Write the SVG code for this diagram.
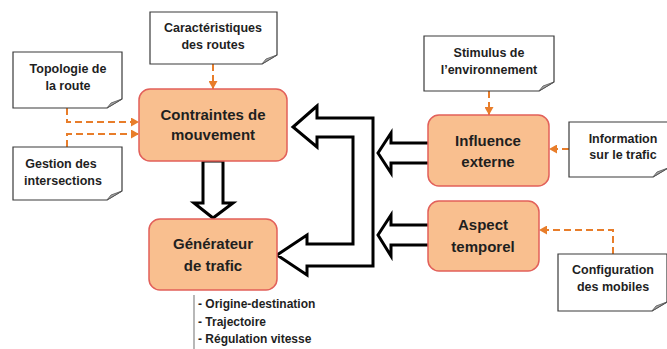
<svg xmlns="http://www.w3.org/2000/svg" width="667" height="349" viewBox="0 0 667 349">
<style>
.note{fill:#fff;stroke:#3a3a3a;stroke-width:1.2}
.fold{fill:#a8a8a8;stroke:#555;stroke-width:0.8}
.box{fill:#f9bf8f;stroke:#e2605a;stroke-width:1.5}
.blk{fill:#fff;stroke:#000;stroke-width:3;stroke-linejoin:miter}
.dash{fill:none;stroke:#e87d2a;stroke-width:2;stroke-dasharray:7 4;marker-end:url(#ah)}
text{font-family:"Liberation Sans",Arial,sans-serif;font-weight:bold;fill:#1f1f1f;text-anchor:middle}
.bt{font-size:15px}
.nt{font-size:12.5px}
.lt{font-size:12px;text-anchor:start}
</style>
<defs>
<marker id="ah" markerUnits="userSpaceOnUse" markerWidth="9" markerHeight="9" refX="8" refY="4.5" orient="auto">
<path d="M0,0 L8,4.5 L0,9 Z" fill="#e87d2a"/>
</marker>
</defs>
<g id="connectors">
<path class="blk" d="M203,161 V203 H194 L213,218 L233,203 H223 V161 Z"/>
<path class="blk" d="M317,106 L293,127 L317,147 V137 H353 V244 H307 V235 L277,255 L307,275 V266 H373 V118 H317 Z"/>
<path class="blk" d="M428,143 H391 V133 L378,153 L391,173 V163 H428"/>
<path class="blk" d="M428,225 H391 V215 L378,235 L391,256 V245 H428"/>
<path class="dash" d="M213,64 V89"/>
<path class="dash" d="M67,108 V122 H139"/>
<path class="dash" d="M67,147 V134 H139"/>
<path class="dash" d="M489,91 V115"/>
<path class="dash" d="M569,149 H549"/>
<path class="dash" d="M613,254 V230 H539"/>
<line x1="194" y1="295" x2="194" y2="349" stroke="#888" stroke-width="1.2"/>
</g>
<g id="caracteristiques">
<path class="note" d="M150,12 H277 V55 L262,64 H150 Z"/>
<path class="fold" d="M262,64 L277,55 L266,59 Z"/>
<text class="nt" x="213" y="32">Caractéristiques</text>
<text class="nt" x="213" y="49">des  routes</text>
</g>
<g id="topologie">
<path class="note" d="M13,52 H122 V99 L107,108 H13 Z"/>
<path class="fold" d="M107,108 L122,99 L111,103 Z"/>
<text class="nt" x="68" y="73">Topologie de</text>
<text class="nt" x="68" y="90">la route</text>
</g>
<g id="gestion">
<path class="note" d="M13,147 H122 V191 L107,200 H13 Z"/>
<path class="fold" d="M107,200 L122,191 L111,195 Z"/>
<text class="nt" x="61" y="168">Gestion des</text>
<text class="nt" x="63" y="185">intersections</text>
</g>
<g id="stimulus">
<path class="note" d="M424,36 H554 V82 L539,91 H424 Z"/>
<path class="fold" d="M539,91 L554,82 L543,86 Z"/>
<text class="nt" x="489" y="57">Stimulus de</text>
<text class="nt" x="489" y="74">l’environnement</text>
</g>
<g id="information">
<path class="note" d="M569,122 H668 V168 L653,177 H569 Z"/>
<path class="fold" d="M653,177 L668,168 L657,172 Z"/>
<text class="nt" x="623" y="143">Information</text>
<text class="nt" x="623" y="159">sur le trafic</text>
</g>
<g id="configuration">
<path class="note" d="M558,254 H667 V302 L652,311 H558 Z"/>
<path class="fold" d="M652,311 L667,302 L656,306 Z"/>
<text class="nt" x="613" y="274">Configuration</text>
<text class="nt" x="613" y="291">des mobiles</text>
</g>
<g id="contraintes">
<rect class="box" x="139" y="89" width="148" height="72" rx="11"/>
<text class="bt" x="213" y="120">Contraintes de</text>
<text class="bt" x="213" y="140">mouvement</text>
</g>
<g id="influence">
<rect class="box" x="428" y="115" width="121" height="71" rx="11"/>
<text class="bt" x="488" y="146">Influence</text>
<text class="bt" x="488" y="167">externe</text>
</g>
<g id="aspect">
<rect class="box" x="428" y="201" width="111" height="70" rx="11"/>
<text class="bt" x="483" y="230">Aspect</text>
<text class="bt" x="483" y="252">temporel</text>
</g>
<g id="generateur">
<rect class="box" x="149" y="219" width="128" height="71" rx="11"/>
<text class="bt" x="213" y="249">Générateur</text>
<text class="bt" x="213" y="271">de trafic</text>
</g>
<g id="liste">
<text class="lt" x="198" y="308">- Origine-destination</text>
<text class="lt" x="198" y="326">- Trajectoire</text>
<text class="lt" x="198" y="343">- Régulation vitesse</text>
</g>
</svg>
